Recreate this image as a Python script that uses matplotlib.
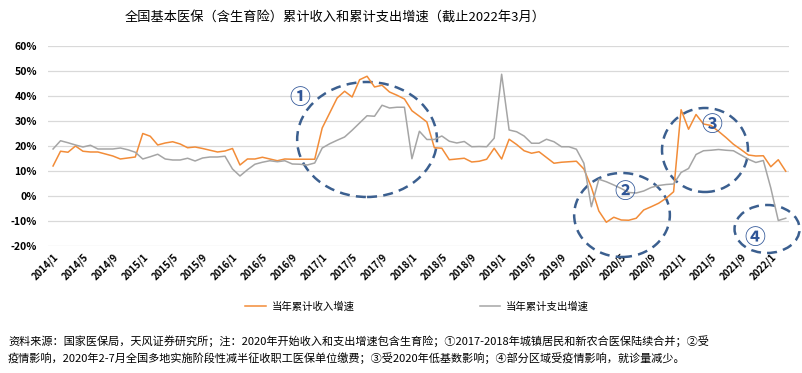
import numpy as np
import matplotlib
matplotlib.use("Agg")
import matplotlib.pyplot as plt
from matplotlib.patches import Ellipse

plt.rcParams['font.family'] = ['Noto Sans CJK SC', 'DejaVu Sans']

# monthly data 2014/1 - 2022/3 (%)
income = [12, 17.9, 17.5, 20, 17.9, 17.6, 17.6, 16.8, 16, 14.8, 15.2, 15.6,
          25, 23.9, 20.4, 21.2, 21.7, 20.8, 19.3, 19.6, 19, 18.3, 17.6, 18,
          19, 12.4, 14.8, 14.8, 15.5, 14.8, 14.1, 14.8, 14.7, 14.7, 14.7, 14.7,
          27.2, 33.2, 39.2, 41.9, 39.6, 46.5, 47.9, 43.6, 44.3, 41.6, 40.3, 38.8,
          34.1, 31.9, 29.6, 19.3, 19.1, 14.5, 14.8, 15.1, 13.6, 13.9, 14.7, 19.1,
          14.8, 22.7, 20.6, 18.1, 17.1, 17.7, 15.4, 13.1, 13.5, 13.7, 13.9, 10.8,
          3.5, -6, -10.5, -8.5, -9.6, -9.7, -8.9, -5.6, -4.3, -2.9, -0.9, 1.7,
          34.5, 26.7, 32.6, 28.8, 28.2, 25.9, 23.4, 20.7, 18.6, 16.4, 16, 16.1,
          11.7, 14.5, 9.9]
expense = [18.8, 22.1, 21.3, 20.4, 19.6, 20.3, 18.8, 18.8, 18.8, 19.2, 18.5, 17.5,
           14.8, 15.7, 16.7, 14.8, 14.4, 14.4, 15.1, 14.0, 15.2, 15.6, 15.6, 15.9,
           10.8, 8.0, 10.5, 12.7, 13.5, 14.1, 13.7, 14.1, 12.8, 12.7, 12.4, 13.2,
           19.2, 20.9, 22.3, 23.6, 26.3, 29.2, 32.1, 31.9, 36.3, 35.2, 35.5, 35.5,
           14.9, 25.9, 22.6, 22.6, 24.0, 21.9, 21.2, 21.8, 19.7, 19.8, 19.7, 23.1,
           48.7, 26.4, 25.7, 24.0, 21.1, 21.1, 22.7, 21.7, 19.7, 19.7, 18.7, 13.1,
           -4.3, 6.7, 5.7, 4.4, 3.0, 1.4, 1.2, 2.0, 3.4, 4.2, 4.6, 4.8,
           9.4, 11.0, 16.6, 18.1, 18.3, 18.6, 18.3, 18.1, 16.4, 14.7, 13.4, 14.2,
           3.2, -9.8, -8.9]
months = [f"{y}/{m}" for y in range(2014, 2023) for m in range(1, 13)][:len(income)]

# annotation circles: (center x index, center y %, width, height, label, label x, label y)
notes = [(42.0, 22.6, 18.7, 46, '①', 33.0, 39.2),
         (76.1, -7.6, 12.8, 33.6, '②', 76.5, 1.6),
         (87.2, 18.4, 11.5, 33.6, '③', 88.1, 28.4),
         (95.5, -13.2, 8.7, 19.2, '④', 93.8, -16.8)]

fig = plt.figure(figsize=(8.02, 3.73), dpi=100)
ax = fig.add_axes([0.0599, 0.3405, 0.9245, 0.5362])

x = np.arange(len(income))
ax.plot(x, income, color='#F28C38', lw=1.1, label='当年累计收入增速')
ax.plot(x, expense, color='#A5A5A5', lw=1.1, label='当年累计支出增速')

ax.set_xlim(-0.67, 98.5)
ax.set_ylim(-20, 60)
ax.set_yticks(range(-20, 61, 10))
ax.set_yticklabels([f"{v}%" for v in range(-20, 61, 10)], fontsize=7.5, fontweight='bold')
ax.set_xticks(x[::4])
ax.set_xticklabels(months[::4], rotation=45, ha='right', va='top', rotation_mode='anchor',
                   fontsize=7, fontweight='bold')
ax.tick_params(length=0, axis='y', pad=8)
ax.tick_params(length=0, axis='x', pad=4)
ax.grid(axis='y', color='#D9D9D9', lw=0.9)
ax.set_axisbelow(True)
for s in ax.spines.values():
    s.set_visible(False)

for cx, cy, w, h, lab, lx, ly in notes:
    e = Ellipse((cx, cy), w, h, fill=False, edgecolor='#3B5F8F', lw=1.8,
                linestyle=(0, (4, 2.5)), clip_on=False)
    ax.add_patch(e)
    ax.text(lx, ly, lab, color='#2F5597', fontsize=15, fontweight='bold',
            ha='center', va='center')

fig.text(0.418, 0.955, '全国基本医保（含生育险）累计收入和累计支出增速（截止2022年3月）',
         ha='center', va='center', fontsize=9.5)

fig.legend(loc='center', bbox_to_anchor=(0.52, 0.177), ncol=2, frameon=False,
           fontsize=7.5, columnspacing=12, handlelength=2, handletextpad=0.5)

fig.text(0.01, 0.085, '资料来源：国家医保局，天风证券研究所；注：2020年开始收入和支出增速包含生育险；①2017-2018年城镇居民和新农合医保陆续合并；②受',
         ha='left', va='center', fontsize=8, style='italic', fontweight='medium')
fig.text(0.01, 0.04, '疫情影响，2020年2-7月全国多地实施阶段性减半征收职工医保单位缴费；③受2020年低基数影响；④部分区域受疫情影响，就诊量减少。',
         ha='left', va='center', fontsize=8, style='italic', fontweight='medium')

fig.savefig('out.png', dpi=100)
